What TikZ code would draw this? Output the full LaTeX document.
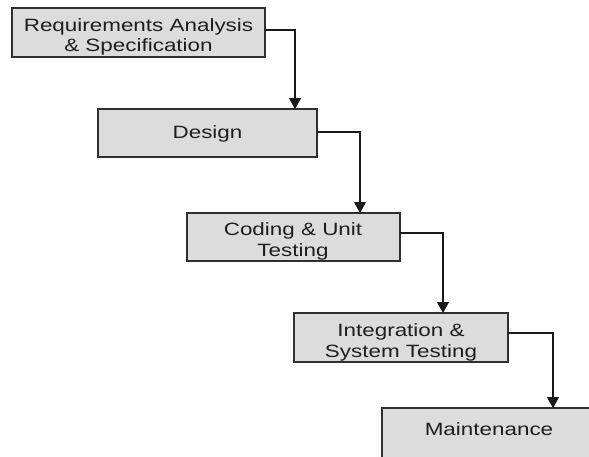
\documentclass[tikz,border=0pt]{standalone}
\usepackage{fontspec}
\setmainfont{Liberation Sans}[FakeStretch=1.26]
\usetikzlibrary{arrows.meta}
\definecolor{boxfill}{HTML}{DCDCDC}
\definecolor{boxline}{HTML}{303030}
\definecolor{txt}{HTML}{1E1E1E}
\begin{document}
\begin{tikzpicture}[x=1pt,y=-1pt,
  box/.style={draw=boxline,fill=boxfill,line width=1.3pt,inner sep=0pt,outer sep=0pt,anchor=north west},
  lbl/.style={anchor=base,inner sep=0pt,text=txt,font=\fontsize{17.8}{20}\selectfont},
  arr/.style={draw=black!90,line width=1.2pt,-{Triangle[width=12pt,length=11pt]}}]
\useasboundingbox (0,0) rectangle (589,456);
\clip (0,0) rectangle (589,456);
\node[box,minimum width=253pt,minimum height=49pt] (b1) at (12,8) {};
\node[box,minimum width=219pt,minimum height=48pt] (b2) at (98,109) {};
\node[box,minimum width=213pt,minimum height=48pt] (b3) at (187,213) {};
\node[box,minimum width=214pt,minimum height=49pt] (b4) at (294,313) {};
\node[box,minimum width=214pt,minimum height=50pt] (b5) at (382,408) {};
\node[lbl] (t1a) at (138.5,31.7) {Requirements Analysis};
\node[lbl] (t1b) at (138.5,51.7) {\& Specification};
\node[lbl] (t2) at (207.5,138) {Design};
\node[lbl] (t3a) at (293,235) {Coding \& Unit};
\node[lbl] (t3b) at (293,256) {Testing};
\node[lbl] (t4a) at (401,336.7) {Integration \&};
\node[lbl] (t4b) at (401,357.3) {System Testing};
\node[lbl] (t5) at (489,435) {Maintenance};
\draw[arr] ([yshift=2.5pt]b1.east) -| ([xshift=87.5pt]b2.north);
\draw[arr] ([yshift=1pt]b2.east) -| ([xshift=66.5pt]b3.north);
\draw[arr] ([yshift=4pt]b3.east) -| ([xshift=42pt]b4.north);
\draw[arr] ([yshift=4.5pt]b4.east) -| ([xshift=64pt]b5.north);
\end{tikzpicture}
\end{document}
